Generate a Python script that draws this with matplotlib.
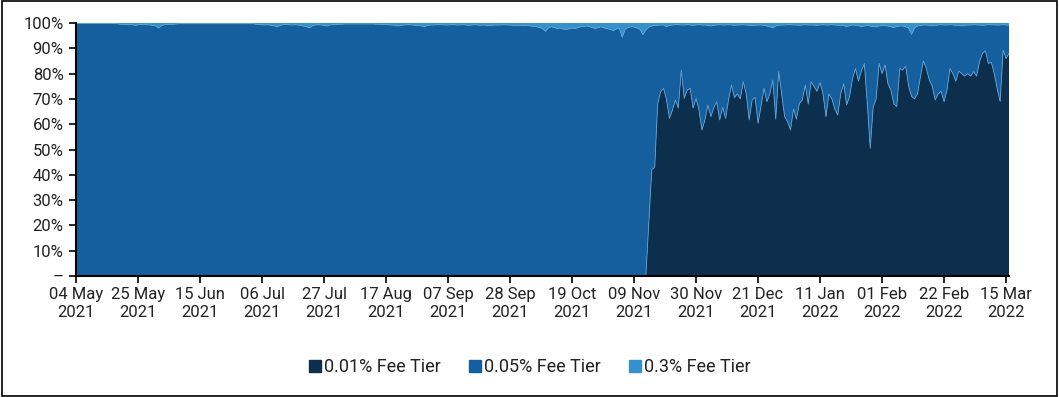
import matplotlib
matplotlib.use("Agg")
import matplotlib.pyplot as plt
import matplotlib.dates as mdates
from matplotlib.patches import Rectangle
from matplotlib.lines import Line2D
import numpy as np
import pandas as pd

plt.rcParams['font.family'] = ['Roboto', 'DejaVu Sans']

start_date = "2021-05-04"
n_days = 317
dates = pd.date_range(start_date, periods=n_days, freq="D")

# 0.01% fee tier share (%), zero until mid-Nov 2021
tier_001_pre = [0.0] * 193
tier_001_post = [
    0, 21, 42, 43, 68, 72.8, 74.2, 69.6, 62.3, 65.6,
    69.6, 66.4, 81.4, 70.2, 73.5, 74.2, 66.4, 70.2, 65.6, 57.7,
    61.7, 67.6, 63, 66.4, 68.9, 61.7, 66.7, 62.3, 69.6, 75.5,
    70.5, 72, 70, 76.8, 72, 61.7, 69.6, 70.6, 60.4, 67,
    74.2, 68.9, 72, 77.5, 62, 80.8, 72, 63, 61, 57.7,
    66, 62, 68.2, 69.6, 75.5, 68, 76.8, 74.8, 73, 76.5,
    72, 63, 72, 70, 66, 63.6, 72, 76, 67.6, 70.9,
    78, 82, 77, 81, 84, 68, 50.5, 66.9, 70, 84,
    80, 83.4, 76, 73.5, 68, 67, 82, 81.4, 83, 75,
    71, 70, 72, 78.8, 85, 82, 77.5, 75, 69.6, 72,
    73, 68.9, 73.5, 82, 80, 77, 81, 80, 79, 80,
    79, 80.8, 79, 84.7, 88, 89, 84, 84.5, 80, 74,
    69, 89.3, 86, 88,
]
tier_001 = tier_001_pre + tier_001_post

# 0.3% fee tier share (%)
tier_03 = [
    0.2, 0.2, 0.2, 0.2, 0.2, 0.2, 0.2, 0.2, 0.2, 0.2,
    0.2, 0.2, 0.2, 0.2, 0.3, 0.5, 0.6, 0.6, 0.7, 0.6,
    1.0, 0.7, 0.6, 0.6, 0.7, 0.8, 0.9, 1.2, 2.0, 1.0,
    0.7, 0.6, 0.5, 0.5, 0.4, 0.3, 0.3, 0.3, 0.3, 0.3,
    0.3, 0.3, 0.3, 0.3, 0.3, 0.3, 0.3, 0.3, 0.3, 0.3,
    0.3, 0.3, 0.3, 0.3, 0.3, 0.3, 0.3, 0.3, 0.3, 0.3,
    0.3, 0.5, 0.6, 0.7, 0.8, 0.7, 0.9, 1.1, 1.5, 1.0,
    0.7, 0.6, 0.7, 0.8, 0.7, 0.8, 0.9, 1.2, 1.4, 2.0,
    1.2, 0.8, 0.7, 0.8, 0.9, 1.2, 0.8, 0.7, 0.6, 0.5,
    0.5, 0.4, 0.4, 0.4, 0.4, 0.4, 0.4, 0.4, 0.4, 0.4,
    0.4, 0.4, 0.5, 0.5, 0.6, 0.6, 0.7, 0.8, 0.9, 1.2,
    1.0, 0.8, 0.7, 0.7, 0.8, 0.9, 1.0, 1.2, 1.5, 1.0,
    0.8, 0.8, 0.7, 0.7, 0.7, 0.8, 0.8, 0.7, 0.7, 0.8,
    0.8, 0.7, 0.8, 0.9, 0.8, 0.7, 0.8, 0.9, 0.8, 0.9,
    1.0, 0.9, 0.8, 0.8, 0.8, 0.7, 0.8, 0.8, 0.9, 0.9,
    0.9, 1.0, 1.1, 1.0, 1.2, 1.3, 1.5, 1.8, 2.2, 3.3,
    2.0, 1.5, 1.8, 2.2, 2.0, 2.4, 2.6, 2.3, 2.0, 2.2,
    1.8, 1.5, 1.3, 1.2, 1.5, 1.8, 2.2, 1.8, 1.5, 2.0,
    2.3, 2.6, 3.0, 2.4, 2.0, 5.7, 2.5, 1.8, 1.5, 1.6,
    2.0, 2.5, 4.6, 2.8, 1.6, 1.2, 1.0, 0.9, 0.8, 0.8,
    1.5, 0.9, 0.8, 0.7, 0.7, 0.8, 0.8, 0.7, 0.8, 0.9,
    0.8, 0.7, 0.8, 0.8, 1.0, 1.2, 0.9, 0.8, 0.7, 0.8,
    0.8, 0.7, 0.8, 0.9, 0.8, 0.8, 0.7, 0.8, 0.9, 1.0,
    0.9, 0.8, 0.8, 0.9, 1.2, 1.5, 2.0, 1.2, 0.9, 0.8,
    0.8, 0.7, 0.7, 0.8, 0.8, 0.9, 0.8, 0.7, 0.8, 0.8,
    0.8, 0.9, 0.8, 0.7, 0.8, 0.8, 0.7, 0.8, 0.9, 0.9,
    1.0, 1.5, 1.0, 0.8, 0.9, 1.0, 1.5, 1.2, 1.0, 1.2,
    1.4, 1.6, 1.2, 1.0, 1.0, 1.2, 1.5, 1.8, 1.4, 1.2,
    1.2, 1.5, 2.0, 4.5, 2.0, 1.2, 1.0, 0.8, 0.8, 0.9,
    1.0, 0.9, 0.8, 0.7, 0.8, 0.8, 0.7, 0.8, 0.9, 0.9,
    1.2, 0.9, 0.8, 0.8, 0.7, 0.8, 0.8, 0.9, 0.8, 0.7,
    0.7, 0.8, 0.8, 0.8, 0.7, 0.8, 0.8,
]

series_names = ["0.01% Fee Tier", "0.05% Fee Tier", "0.3% Fee Tier"]
colors = ["#0c2f4e", "#155f9f", "#3590cb"]

tick_dates = pd.date_range("2021-05-04", "2022-03-15", freq="21D")
y_ticks = list(range(0, 101, 10))
y_labels = ["–"] + [f"{v}%" for v in y_ticks[1:]]

t001 = np.array(tier_001, dtype=float)
t03 = np.array(tier_03, dtype=float)
t005 = 100.0 - t001 - t03

fig = plt.figure(figsize=(10.59, 3.97), dpi=100)
ax = fig.add_axes([0.0718, 0.3048, 0.8810, 0.6372])

ax.stackplot(dates, t001, t005, t03, colors=colors, linewidth=0)
ax.plot(dates, t001, color="#5f9fd0", lw=0.6, zorder=2)
ax.plot(dates, t001 + t005, color="#5aa5d8", lw=0.5, zorder=2)

ax.set_xlim(dates[0], dates[-1])
ax.set_ylim(0, 100)
ax.set_yticks(y_ticks)
ax.set_yticklabels(y_labels)
ax.set_xticks(tick_dates)
ax.xaxis.set_major_formatter(mdates.DateFormatter("%d %b\n%Y"))

for s in ["top", "right"]:
    ax.spines[s].set_visible(False)
for s in ["left", "bottom"]:
    ax.spines[s].set_color("black")
    ax.spines[s].set_linewidth(1.5)
    ax.spines[s].set_zorder(3)

ax.tick_params(axis="both", direction="out", length=5, width=1.2, color="black",
               labelsize=12, labelcolor="#222222")
ax.tick_params(axis="x", pad=3)
ax.tick_params(axis="y", pad=4)

handles = [Line2D([0], [0], marker="s", color="none", markerfacecolor=c,
                  markeredgecolor=c, markersize=8) for c in colors]
fig.legend(handles, series_names, loc="center", bbox_to_anchor=(0.5, 0.075),
           ncol=3, frameon=False, fontsize=13, handletextpad=0.1,
           columnspacing=1.5, handlelength=0.8, labelcolor="#222222")

fig.patches.append(Rectangle((0.0015, 0.003), 0.997, 0.994, transform=fig.transFigure,
                             fill=False, edgecolor="black", linewidth=1.2))

fig.savefig("out.png", dpi=100)
